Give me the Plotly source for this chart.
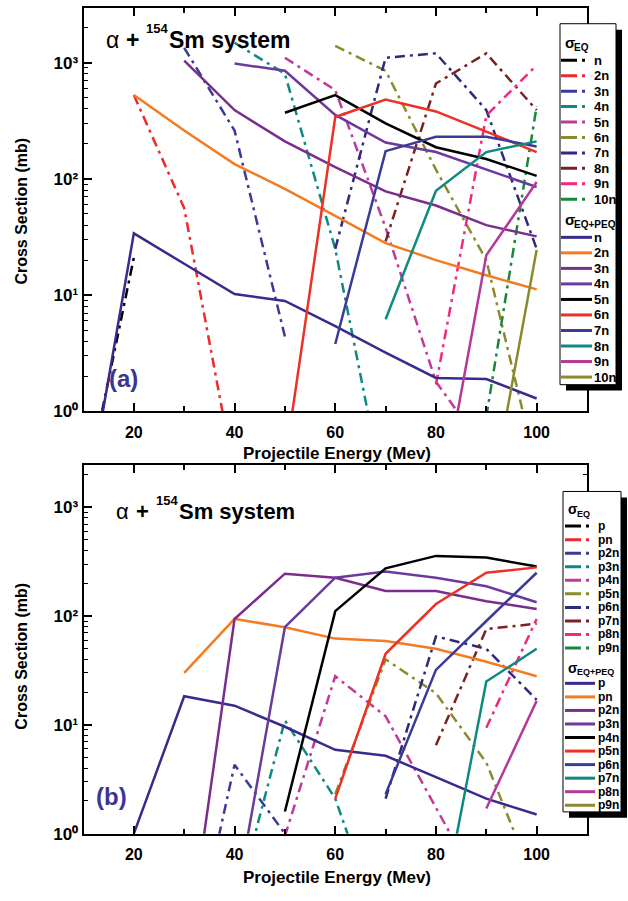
import plotly.graph_objects as go

W, H = 628, 901

# ---------------- data ----------------
energy = [10, 20, 30, 40, 50, 60, 70, 80, 90, 100]
N = None

# Panel (a): sigma_EQ (dash-dot)
a_eq_n   = [0.17, 21, N, N, N, N, N, N, N, N]
a_eq_2n  = [N, 525, 56, 0.28, N, N, N, N, N, N]
a_eq_3n  = [N, N, 1340, 260, 4.4, N, N, N, N, N]
a_eq_4n  = [N, N, N, 1480, 800, 25, 0.17, N, N, N]
a_eq_5n  = [N, N, N, N, 1100, 580, 38, 1.8, 0.45, N]
a_eq_6n  = [N, N, N, N, N, 1390, 850, 120, 20, 0.32]
a_eq_7n  = [N, N, N, N, N, 25, 1100, 1200, 390, 25]
a_eq_8n  = [N, N, N, N, N, N, 29, 660, 1200, 390]
a_eq_9n  = [N, N, N, N, N, N, N, 1.7, 350, 950]
a_eq_10n = [N, N, N, N, N, N, N, N, 0.9, 420]

# Panel (a): sigma_EQ+PEQ (solid)
a_n   = [0.11, 34, 18.6, 10.2, 8.9, 5.4, 3.2, 1.94, 1.9, 1.29]
a_2n  = [N, 525, 260, 134, 82, 48, 28, 20, 14.8, 11.2]
a_3n  = [N, N, 1040, 390, 210, 126, 78, 59, 40, 32]
a_4n  = [N, N, N, 980, 850, 355, 205, 170, 121, 85]
a_5n  = [N, N, N, N, 370, 525, 300, 187, 148, 106]
a_6n  = [N, N, N, N, 0.36, 340, 480, 380, 255, 170]
a_7n  = [N, N, N, N, N, 3.8, 173, 230, 230, 190]
a_8n  = [N, N, N, N, N, N, 6.2, 79, 170, 210]
a_9n  = [N, N, N, N, N, N, N, 0.095, 22, 94]
a_10n = [N, N, N, N, N, N, N, N, 0.107, 24.5]

# Panel (b): sigma_EQ (dash-dot)
b_eq_p2n = [N, N, 0.034, 4.3, 1.0, N, N, N, N, N]
b_eq_p3n = [N, N, N, 0.19, 11, 2.1, 0.1, N, N, N]
b_eq_p4n = [N, N, N, N, 0.95, 28, 12, 1.7, 0.25, N]
b_eq_p5n = [N, N, N, N, N, 2.3, 40, 19.5, 4.5, 0.32]
b_eq_p6n = [N, N, N, N, N, N, 2.1, 65, 50, 17]
b_eq_p7n = [N, N, N, N, N, N, N, 6.5, 76, 85]
b_eq_p8n = [N, N, N, N, N, N, N, N, 9.4, 94]

# Panel (b): sigma_EQ+PEQ (solid)
b_p   = [N, 1.0, 18.3, 15, 9.6, 5.9, 5.2, 3.3, 2.1, 1.5]
b_pn  = [N, N, 30, 94, 79, 62, 59, 50, 38, 28]
b_p2n = [N, N, 0.05, 94, 245, 225, 170, 170, 137, 116]
b_p3n = [N, N, N, 0.2, 79, 225, 257, 225, 188, 134]
b_p4n = [N, N, N, N, 1.6, 111, 274, 357, 345, 285]
b_p5n = [N, N, N, N, N, 2.1, 45, 129, 250, 280]
b_p6n = [N, N, N, N, N, N, 2.3, 32, 90, 250]
b_p7n = [N, N, N, N, N, N, N, 0.1, 25, 50]
b_p8n = [N, N, N, N, N, N, N, N, 1.7, 16.6]

labels_a = ["n", "2n", "3n", "4n", "5n", "6n", "7n", "8n", "9n", "10n"]
labels_b = ["p", "pn", "p2n", "p3n", "p4n", "p5n", "p6n", "p7n", "p8n", "p9n"]

x_ticks = [20, 40, 60, 80, 100]
x_minor = [30, 50, 70, 90]
y_ticks = [1, 10, 100, 1000]
y_ticktext = ["10⁰", "10¹", "10²", "10³"]

# ---------------- styles ----------------
eq_colors = ["#000000", "#ee2a2a", "#3c3a98", "#0f8a82", "#c0399b",
             "#8b8b2e", "#2e2a7c", "#7a2222", "#f0287f", "#17883a"]
peq_colors = ["#3a2a8e", "#f47b20", "#7b2d8e", "#6b3a9c", "#000000",
              "#ee3124", "#3a3b97", "#0e8a80", "#b5399b", "#8b8b2e"]
FONT = "Liberation Sans, Arial, sans-serif"
DASH = "10px,5px,3px,5px"

def px(x):
    return x / W

def py(y):
    return 1 - y / H

fig = go.Figure()

a_eq = [a_eq_n, a_eq_2n, a_eq_3n, a_eq_4n, a_eq_5n, a_eq_6n, a_eq_7n, a_eq_8n, a_eq_9n, a_eq_10n]
a_peq = [a_n, a_2n, a_3n, a_4n, a_5n, a_6n, a_7n, a_8n, a_9n, a_10n]
b_eq = [None, None, b_eq_p2n, b_eq_p3n, b_eq_p4n, b_eq_p5n, b_eq_p6n, b_eq_p7n, b_eq_p8n, None]
b_peq = [b_p, b_pn, b_p2n, b_p3n, b_p4n, b_p5n, b_p6n, b_p7n, b_p8n, None]

for i, ys in enumerate(a_eq):
    fig.add_trace(go.Scatter(x=energy, y=ys, mode="lines", name="EQ " + labels_a[i],
                             line=dict(color=eq_colors[i], width=2.5, dash=DASH),
                             xaxis="x", yaxis="y", showlegend=False))
for i, ys in enumerate(a_peq):
    fig.add_trace(go.Scatter(x=energy, y=ys, mode="lines", name="EQ+PEQ " + labels_a[i],
                             line=dict(color=peq_colors[i], width=2.5),
                             xaxis="x", yaxis="y", showlegend=False))
for i, ys in enumerate(b_eq):
    if ys is None:
        continue
    fig.add_trace(go.Scatter(x=energy, y=ys, mode="lines", name="EQ " + labels_b[i],
                             line=dict(color=eq_colors[i], width=2.5, dash=DASH),
                             xaxis="x2", yaxis="y2", showlegend=False))
for i, ys in enumerate(b_peq):
    if ys is None:
        continue
    fig.add_trace(go.Scatter(x=energy, y=ys, mode="lines", name="EQ+PEQ " + labels_b[i],
                             line=dict(color=peq_colors[i], width=2.5),
                             xaxis="x2", yaxis="y2", showlegend=False))

def xaxis(anchor):
    return dict(domain=[px(83.5), px(587)], range=[10, 110], anchor=anchor,
                showline=True, linecolor="black", linewidth=2, mirror="ticks",
                ticks="inside", ticklen=8, tickwidth=2, tickcolor="black",
                tickvals=x_ticks, showgrid=False, zeroline=False,
                ticklabelstandoff=5,
                tickfont=dict(family=FONT, size=16, color="black", weight="bold"),
                minor=dict(tickvals=x_minor, ticks="inside", ticklen=5, tickwidth=1.5,
                           tickcolor="black", showgrid=False))

minor_y = [m * 10 ** k for k in range(0, 4) for m in range(2, 10)]

def yaxis(anchor, dom, top):
    return dict(type="log", domain=dom, range=[0, top], anchor=anchor,
                showline=True, linecolor="black", linewidth=2, mirror="ticks",
                ticks="inside", ticklen=8, tickwidth=2, tickcolor="black",
                tickvals=y_ticks, ticktext=y_ticktext, showgrid=False, zeroline=False,
                tickfont=dict(family=FONT, size=17, color="black", weight="bold"),
                minor=dict(tickvals=minor_y, ticks="inside", ticklen=4, tickwidth=1,
                           tickcolor="black", showgrid=False))

fig.update_layout(
    width=W, height=H, margin=dict(l=0, r=0, t=0, b=0),
    paper_bgcolor="white", plot_bgcolor="white", showlegend=False,
    xaxis=xaxis("y"),
    yaxis=yaxis("x", [py(416), py(8)], 3.47),
    xaxis2=xaxis("y2"),
    yaxis2=yaxis("x2", [py(843), py(470)], 3.39),
)

shapes = []
annotations = []

def text(x, y, s, size, xanchor="left", color="black", angle=0):
    annotations.append(dict(xref="paper", yref="paper", x=px(x), y=py(y), text=s,
                            showarrow=False, xanchor=xanchor, yanchor="middle",
                            textangle=angle,
                            font=dict(family=FONT, size=size, color=color)))

def legend(box, title_y, rows_eq, peq_title_y, rows_peq, labels, eq_seg, peq_seg, tx, fs):
    x0, y0, x1, y1 = box
    shapes.append(dict(type="rect", xref="paper", yref="paper",
                       x0=px(x0 + 6), x1=px(x1 + 6), y0=py(y0 + 6), y1=py(y1 + 6),
                       fillcolor="black", line=dict(width=0), layer="above"))
    shapes.append(dict(type="rect", xref="paper", yref="paper",
                       x0=px(x0), x1=px(x1), y0=py(y0), y1=py(y1),
                       fillcolor="white", line=dict(color="black", width=1), layer="above"))
    for ty, sub in ((title_y, "EQ"), (peq_title_y, "EQ+PEQ")):
        text(x0 + 3, ty - 2, "<b>σ</b>", fs + 2)
        text(x0 + 12, ty + 3, "<b>" + sub + "</b>", fs - 3)
    for i, lab in enumerate(labels):
        y = rows_eq[i]
        shapes.append(dict(type="line", xref="paper", yref="paper",
                           x0=px(eq_seg[0]), x1=px(eq_seg[1]), y0=py(y), y1=py(y),
                           line=dict(color=eq_colors[i], width=3, dash="16px,5px,3px,10px"),
                           layer="above"))
        text(tx, y, "<b>" + lab + "</b>", fs)
        y = rows_peq[i]
        shapes.append(dict(type="line", xref="paper", yref="paper",
                           x0=px(peq_seg[0]), x1=px(peq_seg[1]), y0=py(y), y1=py(y),
                           line=dict(color=peq_colors[i], width=3), layer="above"))
        text(tx, y, "<b>" + lab + "</b>", fs)

legend((560, 24, 616, 389), 45, [61 + 15.6 * i for i in range(10)], 224,
       [240 + 15.7 * i for i in range(10)], labels_a, (561, 585), (561, 592), 592, 13)
legend((563, 497, 621, 821), 517, [532 + 13.7 * i for i in range(10)], 677,
       [691 + 13.7 * i for i in range(10)], labels_b, (565, 589), (565, 595), 596, 12)

# system label: alpha + 154Sm system (superscript as a separate smaller text)
def system_label(x_alpha, x_plus, x_sup, x_sm, y, y_sup, size):
    text(x_alpha, y, "α", size)
    text(x_plus, y, "<b>+</b>", size)
    text(x_sup, y_sup, "<b>154</b>", 13)
    text(x_sm, y, "<b>Sm system</b>", size)

system_label(104, 124, 144, 167, 40, 29, 23)
system_label(114, 134, 154, 177, 517, 506, 22)

text(123, 383, "<b>(a)</b>", 24, xanchor="center", color="#3b3590")
text(112, 805, "<b>(b)</b>", 24, xanchor="center", color="#3b3590")
text(337, 459, "<b>Projectile Energy (Mev)</b>", 17, xanchor="center")
text(337, 887, "<b>Projectile Energy (Mev)</b>", 17, xanchor="center")
text(22, 214, "<b>Cross Section (mb)</b>", 16, xanchor="center", angle=-90)
text(22, 664, "<b>Cross Section (mb)</b>", 16, xanchor="center", angle=-90)

fig.update_layout(shapes=shapes, annotations=annotations)
fig.write_html("out.html", config={"displayModeBar": False},
               post_script="document.body.style.margin='0px';document.body.style.overflow='hidden';")
